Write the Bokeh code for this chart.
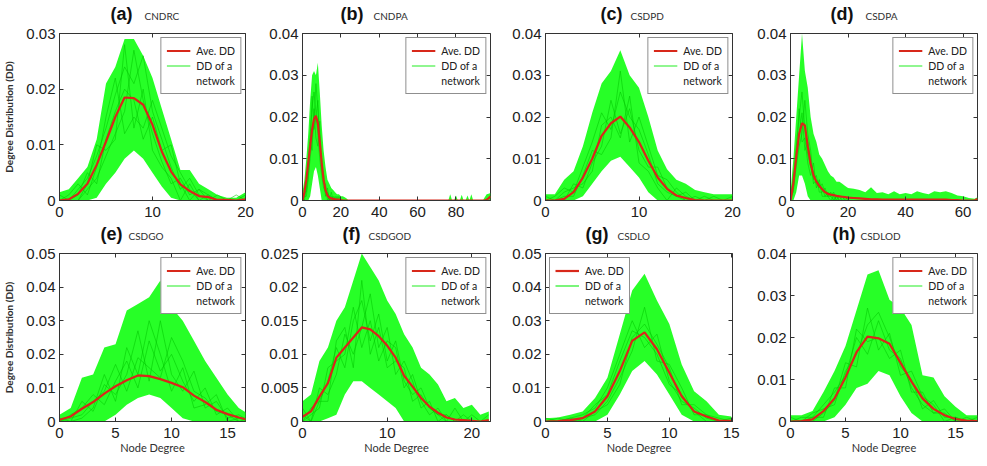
from bokeh.plotting import figure
from bokeh.layouts import row, column
from bokeh.models import (Range1d, FixedTicker, LinearAxis, Legend,
                          LegendItem, CustomJSTickFormatter)
from bokeh.core.properties import value
from bokeh.embed import file_html
from bokeh.resources import INLINE

# ---------------- data ----------------
a_deg = list(range(0, 21))
a_ave = [0.0, 0.0002, 0.0012, 0.003, 0.0064, 0.0106, 0.015, 0.0185, 0.0184, 0.0172, 0.0136,
         0.0088, 0.0052, 0.0029, 0.0017, 0.0008, 0.0006, 0.0001, 0.0001, 0.0, 0.0002]
a_hi = [0.0015, 0.002, 0.004, 0.006, 0.011, 0.021, 0.024, 0.029, 0.029, 0.026, 0.022,
        0.0165, 0.011, 0.0055, 0.0055, 0.003, 0.002, 0.001, 0.0005, 0.0005, 0.0015]
a_lo = [0, 0, 0, 0, 0.0005, 0.003, 0.005, 0.0075, 0.009, 0.0075, 0.005,
        0.0025, 0.0005, 0, 0, 0, 0, 0, 0, 0, 0]
a_nets = [
    [0, 0, 0.002, 0.004, 0.008, 0.013, 0.019, 0.024, 0.021, 0.026, 0.016, 0.011, 0.006, 0.002, 0.004, 0.001, 0, 0, 0, 0, 0],
    [0.001, 0, 0, 0.002, 0.004, 0.008, 0.012, 0.016, 0.027, 0.018, 0.012, 0.007, 0.003, 0.004, 0.001, 0.002, 0, 0.001, 0, 0, 0.001],
    [0, 0.001, 0.003, 0.001, 0.006, 0.015, 0.022, 0.012, 0.015, 0.013, 0.018, 0.013, 0.008, 0.005, 0.002, 0, 0.001, 0, 0, 0, 0],
    [0, 0, 0, 0.003, 0.01, 0.009, 0.011, 0.028, 0.013, 0.02, 0.009, 0.006, 0.004, 0, 0.003, 0, 0, 0, 0, 0, 0],
    [0, 0, 0.001, 0.005, 0.003, 0.011, 0.016, 0.02, 0.018, 0.011, 0.015, 0.009, 0.01, 0.003, 0, 0.002, 0.001, 0, 0, 0.001, 0],
]

b_deg = [0, 1, 2, 3, 4, 5, 6, 7, 8, 9, 10, 11, 12, 13, 14, 15, 16, 17, 18, 19, 20, 21, 22, 23, 24,
         76, 77, 78, 79, 80, 81, 82, 83, 84, 85, 86, 87, 88, 89, 90, 91, 92, 93, 94, 95, 96, 97, 98]
b_ave = [0.0, 0.002, 0.005, 0.009, 0.013, 0.017, 0.0195, 0.0203, 0.0185, 0.014, 0.009, 0.005, 0.0025,
         0.0012, 0.0007, 0.0005, 0.0004, 0.0003, 0.0002, 0.0002, 0.0001, 0.0, 0.0, 0.0, 0.0,
         0, 0, 0, 0, 0, 0, 0, 0, 0, 0, 0, 0, 0, 0, 0, 0, 0, 0, 0, 0, 0.0002, 0.0005, 0.001]
b_hi = [0.002, 0.005, 0.01, 0.016, 0.024, 0.03, 0.031, 0.03, 0.033, 0.026, 0.018, 0.012, 0.008,
        0.005, 0.004, 0.003, 0.0025, 0.002, 0.0015, 0.0015, 0.001, 0.001, 0.0008, 0.0005, 0.0,
        0, 0.0015, 0, 0, 0.0012, 0, 0, 0.0014, 0, 0, 0.0012, 0, 0.0015, 0, 0, 0, 0, 0, 0, 0.0008, 0.0015, 0.0016, 0.0018]
b_lo = [0, 0, 0, 0, 0.001, 0.004, 0.007, 0.008, 0.006, 0.003, 0, 0, 0, 0, 0, 0, 0, 0, 0, 0, 0, 0, 0, 0, 0,
        0, 0, 0, 0, 0, 0, 0, 0, 0, 0, 0, 0, 0, 0, 0, 0, 0, 0, 0, 0, 0, 0, 0]
b_net_deg = [0, 1, 2, 3, 4, 5, 6, 7, 8, 9, 10, 11, 12, 13, 14, 15, 16, 17, 18, 19, 20, 21, 22, 23, 24]
b_nets = [
    [0, 0.001, 0.004, 0.009, 0.016, 0.022, 0.026, 0.021, 0.016, 0.01, 0.006, 0.003, 0.002, 0.001, 0, 0.001, 0, 0, 0, 0, 0, 0, 0, 0, 0],
    [0, 0.002, 0.002, 0.006, 0.01, 0.015, 0.019, 0.028, 0.022, 0.015, 0.009, 0.005, 0.002, 0.002, 0.001, 0, 0, 0.001, 0, 0, 0, 0, 0, 0, 0],
    [0.001, 0, 0.003, 0.008, 0.013, 0.025, 0.017, 0.02, 0.024, 0.012, 0.01, 0.004, 0.004, 0, 0.001, 0, 0.001, 0, 0, 0.001, 0, 0, 0, 0, 0],
    [0, 0.001, 0.001, 0.005, 0.014, 0.012, 0.022, 0.015, 0.013, 0.019, 0.007, 0.006, 0.001, 0.003, 0, 0.002, 0, 0, 0.001, 0, 0, 0, 0, 0, 0],
]

c_deg = list(range(0, 21))
c_ave = [0.0, 0.0, 0.0004, 0.002, 0.0055, 0.01, 0.0155, 0.0185, 0.0201, 0.0175, 0.014,
         0.0095, 0.0055, 0.0028, 0.0012, 0.0006, 0.0001, 0.0, 0.0, 0.0, 0.0]
c_hi = [0.0015, 0.0015, 0.005, 0.007, 0.013, 0.021, 0.028, 0.031, 0.036, 0.030, 0.027,
        0.020, 0.012, 0.0075, 0.005, 0.004, 0.0025, 0.002, 0.0015, 0.0015, 0.0015]
c_lo = [0, 0, 0, 0, 0.001, 0.004, 0.007, 0.0095, 0.0105, 0.008, 0.0055, 0.002, 0, 0, 0, 0, 0, 0, 0, 0, 0]
c_nets = [
    [0, 0.001, 0.003, 0.002, 0.008, 0.014, 0.021, 0.017, 0.026, 0.02, 0.017, 0.011, 0.004, 0.002, 0.001, 0, 0, 0, 0, 0, 0],
    [0, 0, 0, 0.004, 0.003, 0.009, 0.013, 0.024, 0.016, 0.022, 0.012, 0.008, 0.008, 0.003, 0.001, 0.002, 0, 0, 0, 0, 0.001],
    [0.001, 0, 0.001, 0.001, 0.006, 0.012, 0.011, 0.015, 0.031, 0.014, 0.02, 0.013, 0.006, 0.005, 0.002, 0, 0.001, 0, 0.001, 0, 0],
    [0, 0, 0.002, 0.003, 0.004, 0.007, 0.018, 0.02, 0.015, 0.025, 0.009, 0.007, 0.003, 0, 0.003, 0.001, 0, 0.001, 0, 0, 0],
]

d_deg = [0, 1, 2, 3, 4, 5, 6, 7, 8, 9, 10, 11, 12, 13, 14, 15, 16, 17, 18, 19, 20,
         22, 24, 26, 28, 30, 32, 34, 36, 38, 40, 42, 44, 46, 48, 50, 52, 54, 56, 58, 60, 62, 64, 65]
d_ave = [0.0, 0.004, 0.0105, 0.016, 0.0185, 0.018, 0.013, 0.0088, 0.006, 0.0045, 0.0035, 0.0027,
         0.002, 0.0016, 0.0014, 0.0013, 0.0011, 0.001, 0.0009, 0.0008, 0.0007,
         0.0006, 0.0005, 0.0004, 0.0003, 0.0003, 0.0002, 0.0002, 0.0002, 0.0002, 0.0002, 0.0002,
         0.0002, 0.0002, 0.0002, 0.0002, 0.0002, 0.0002, 0.0001, 0.0001, 0.0, 0.0, 0.0, 0.0004]
d_hi = [0.002, 0.01, 0.02, 0.03, 0.04, 0.031, 0.027, 0.02, 0.016, 0.014, 0.011, 0.01, 0.0085,
        0.007, 0.006, 0.0055, 0.0045, 0.0045, 0.004, 0.0035, 0.003,
        0.0028, 0.0025, 0.002, 0.0032, 0.0018, 0.002, 0.0015, 0.0022, 0.0015, 0.0018, 0.0015,
        0.0022, 0.0018, 0.0015, 0.0022, 0.002, 0.0022, 0.0018, 0.0012, 0.001, 0.0006, 0.0004, 0.0008]
d_lo = [0, 0, 0.002, 0.006, 0.006, 0.004, 0.001, 0, 0, 0, 0, 0, 0, 0, 0, 0, 0, 0, 0, 0, 0,
        0, 0, 0, 0, 0, 0, 0, 0, 0, 0, 0, 0, 0, 0, 0, 0, 0, 0, 0, 0, 0, 0, 0]
d_net_deg = [0, 1, 2, 3, 4, 5, 6, 7, 8, 9, 10, 11, 12, 13, 14, 15, 16, 17, 18, 19, 20]
d_nets = [
    [0, 0.005, 0.013, 0.02, 0.026, 0.017, 0.011, 0.008, 0.007, 0.004, 0.003, 0.004, 0.002, 0.001, 0.002, 0, 0.001, 0, 0.001, 0, 0],
    [0, 0.003, 0.008, 0.013, 0.016, 0.024, 0.016, 0.012, 0.005, 0.006, 0.002, 0.002, 0.003, 0.001, 0, 0.001, 0, 0.001, 0, 0, 0.001],
    [0.001, 0.002, 0.011, 0.022, 0.014, 0.015, 0.009, 0.006, 0.009, 0.003, 0.005, 0.001, 0.001, 0.002, 0.001, 0, 0.001, 0, 0, 0.001, 0],
    [0, 0.006, 0.009, 0.016, 0.021, 0.012, 0.014, 0.01, 0.004, 0.005, 0.004, 0.003, 0.001, 0.001, 0.001, 0.002, 0, 0, 0, 0, 0],
]

e_deg = list(range(0, 18))
e_ave = [0.0005, 0.0015, 0.0038, 0.0058, 0.0083, 0.0105, 0.0123, 0.0137, 0.0135, 0.0126,
         0.0115, 0.0102, 0.0077, 0.0058, 0.0035, 0.0022, 0.0012, 0.0003]
e_hi = [0.002, 0.004, 0.013, 0.014, 0.022, 0.023, 0.033, 0.035, 0.037, 0.042,
        0.034, 0.030, 0.024, 0.018, 0.013, 0.008, 0.004, 0.002]
e_lo = [0, 0, 0, 0, 0, 0.002, 0.005, 0.007, 0.008, 0.007, 0.004, 0.001, 0, 0, 0, 0, 0, 0]
e_nets = [
    [0, 0.002, 0.004, 0.008, 0.005, 0.012, 0.018, 0.01, 0.024, 0.015, 0.02, 0.012, 0.006, 0.01, 0.002, 0.004, 0, 0],
    [0.001, 0, 0.006, 0.003, 0.011, 0.008, 0.014, 0.027, 0.012, 0.03, 0.014, 0.009, 0.015, 0.004, 0.006, 0.001, 0.002, 0],
    [0, 0.001, 0.002, 0.006, 0.009, 0.017, 0.009, 0.019, 0.016, 0.013, 0.025, 0.018, 0.009, 0.007, 0.003, 0.002, 0, 0.001],
    [0, 0, 0.001, 0.004, 0.014, 0.006, 0.022, 0.014, 0.03, 0.02, 0.009, 0.016, 0.004, 0.005, 0.008, 0, 0.001, 0],
]

f_deg = list(range(0, 23))
f_ave = [0.0007, 0.0015, 0.0037, 0.0057, 0.0095, 0.011, 0.0125, 0.014, 0.0137, 0.0127, 0.0113,
         0.0095, 0.0068, 0.0052, 0.0035, 0.0022, 0.0013, 0.0006, 0.0003, 0.0002, 0.0001, 0.0, 0.0002]
f_hi = [0.003, 0.004, 0.009, 0.011, 0.015, 0.017, 0.021, 0.025, 0.023, 0.021, 0.018,
        0.016, 0.013, 0.011, 0.008, 0.007, 0.0055, 0.003, 0.0035, 0.002, 0.0025, 0.001, 0.0015]
f_lo = [0, 0, 0, 0.0005, 0.001, 0.004, 0.006, 0.006, 0.005, 0.004, 0.003, 0.002,
        0, 0, 0, 0, 0, 0, 0, 0, 0, 0, 0]
f_nets = [
    [0, 0.002, 0.003, 0.006, 0.011, 0.008, 0.015, 0.018, 0.012, 0.016, 0.009, 0.012, 0.006, 0.004, 0.005, 0.002, 0.001, 0, 0.002, 0, 0, 0, 0],
    [0.001, 0, 0.005, 0.004, 0.007, 0.013, 0.01, 0.014, 0.019, 0.011, 0.014, 0.007, 0.009, 0.006, 0.002, 0.003, 0, 0.001, 0, 0.001, 0, 0, 0],
    [0, 0.001, 0.002, 0.008, 0.009, 0.01, 0.017, 0.011, 0.015, 0.009, 0.012, 0.011, 0.005, 0.007, 0.003, 0.001, 0.002, 0, 0, 0, 0.001, 0, 0],
    [0.002, 0, 0.003, 0.003, 0.012, 0.014, 0.008, 0.021, 0.01, 0.014, 0.008, 0.009, 0.008, 0.003, 0.004, 0.002, 0.001, 0.001, 0, 0, 0, 0, 0.001],
]

g_deg = list(range(0, 16))
g_ave = [0.0, 0.0001, 0.0004, 0.001, 0.003, 0.0075, 0.015, 0.024, 0.0265, 0.0215, 0.0145,
         0.0075, 0.003, 0.0015, 0.0003, 0.0002]
g_hi = [0.001, 0.0012, 0.002, 0.003, 0.007, 0.013, 0.026, 0.039, 0.044, 0.036, 0.029,
        0.017, 0.009, 0.006, 0.002, 0.0015]
g_lo = [0, 0, 0, 0, 0, 0.002, 0.008, 0.015, 0.018, 0.014, 0.008, 0.002, 0, 0, 0, 0]
g_nets = [
    [0, 0, 0.001, 0.002, 0.004, 0.01, 0.02, 0.03, 0.022, 0.026, 0.012, 0.006, 0.004, 0.001, 0, 0],
    [0, 0.001, 0, 0.001, 0.002, 0.006, 0.013, 0.021, 0.034, 0.018, 0.017, 0.01, 0.002, 0.002, 0.001, 0],
    [0, 0, 0, 0.001, 0.005, 0.008, 0.018, 0.027, 0.025, 0.02, 0.011, 0.008, 0.003, 0, 0, 0.001],
    [0.001, 0, 0.001, 0, 0.003, 0.005, 0.011, 0.025, 0.029, 0.023, 0.016, 0.005, 0.005, 0.002, 0, 0],
]

h_deg = list(range(0, 18))
h_ave = [0.0, 0.0001, 0.0005, 0.0025, 0.0055, 0.0105, 0.0165, 0.0202, 0.0198, 0.0185, 0.014,
         0.0095, 0.0055, 0.003, 0.0015, 0.0006, 0.0002, 0.0001]
h_hi = [0.0015, 0.0015, 0.0025, 0.007, 0.012, 0.018, 0.0265, 0.035, 0.036, 0.029, 0.027,
        0.023, 0.011, 0.0105, 0.006, 0.0035, 0.0015, 0.0015]
h_lo = [0, 0, 0, 0, 0.001, 0.004, 0.008, 0.009, 0.012, 0.011, 0.006, 0.002, 0, 0, 0, 0, 0, 0]
h_nets = [
    [0, 0, 0.001, 0.004, 0.007, 0.011, 0.02, 0.016, 0.024, 0.017, 0.015, 0.008, 0.004, 0.002, 0.002, 0, 0, 0],
    [0.001, 0, 0, 0.002, 0.005, 0.014, 0.013, 0.027, 0.017, 0.021, 0.011, 0.012, 0.006, 0.004, 0, 0.001, 0, 0.001],
    [0, 0.001, 0.001, 0.001, 0.008, 0.008, 0.022, 0.019, 0.02, 0.015, 0.017, 0.007, 0.007, 0.002, 0.003, 0, 0.001, 0],
    [0, 0, 0.002, 0.003, 0.004, 0.012, 0.016, 0.023, 0.026, 0.02, 0.013, 0.01, 0.003, 0.005, 0.001, 0.001, 0, 0],
]

# axis ticks and labels
x_ticks_a = [0, 10, 20]; x_labels_a = ["0", "10", "20"]
x_ticks_b = [0, 20, 40, 60, 80]; x_labels_b = ["0", "20", "40", "60", "80"]
x_ticks_d = [0, 20, 40, 60]; x_labels_d = ["0", "20", "40", "60"]
x_ticks_5 = [0, 5, 10, 15]; x_labels_5 = ["0", "5", "10", "15"]
y_ticks_03 = [0, 0.01, 0.02, 0.03]; y_labels_03 = ["0", "0.01", "0.02", "0.03"]
y_ticks_04 = [0, 0.01, 0.02, 0.03, 0.04]; y_labels_04 = ["0", "0.01", "0.02", "0.03", "0.04"]
y_ticks_05 = [0, 0.01, 0.02, 0.03, 0.04, 0.05]; y_labels_05 = ["0", "0.01", "0.02", "0.03", "0.04", "0.05"]
y_ticks_025 = [0, 0.005, 0.01, 0.015, 0.02, 0.025]; y_labels_025 = ["0", "0.005", "0.01", "0.015", "0.02", "0.025"]

tags = ["(a)", "(b)", "(c)", "(d)", "(e)", "(f)", "(g)", "(h)"]
names = ["CNDRC", "CNDPA", "CSDPD", "CSDPA", "CSDGO", "CSDGOD", "CSDLO", "CSDLOD"]
legend_labels = ["Ave. DD", "DD of a", "network"]
x_title = "Node Degree"
y_title = "Degree Distribution (DD)"

# ---------------- styling / layout ----------------
GREEN_BAND = "#10ff10"
GREEN_LINE = "#00c800"
GREEN_LEG = "#22ee22"
RED = "#d8281a"
AX = "#333333"
TICK_FONT = "Liberation Sans"
SMALL_FONT = "Lato"
PAGE_W = 987

# title placement (pixels from the page's left edge)
tag_left = [110, 340, 600, 830, 100, 342, 585, 832]
name_left = [144, 373, 630, 865, 128, 368, 617, 860]

panels = [
    dict(deg=a_deg, ave=a_ave, hi=a_hi, lo=a_lo, ndeg=a_deg, nets=a_nets, xr=(0, 20),
         xt=x_ticks_a, xl=x_labels_a, yr=(0, 0.03), yt=y_ticks_03, yl=y_labels_03,
         bl=57, br=12, fw=186, leg="top_right", ylab=True),
    dict(deg=b_deg, ave=b_ave, hi=b_hi, lo=b_lo, ndeg=b_net_deg, nets=b_nets, xr=(0, 98),
         xt=x_ticks_b, xl=x_labels_b, yr=(0, 0.04), yt=y_ticks_04, yl=y_labels_04,
         bl=45, br=17, fw=188, leg="top_right", ylab=False),
    dict(deg=c_deg, ave=c_ave, hi=c_hi, lo=c_lo, ndeg=c_deg, nets=c_nets, xr=(0, 20),
         xt=x_ticks_a, xl=x_labels_a, yr=(0, 0.04), yt=y_ticks_04, yl=y_labels_04,
         bl=38, br=22, fw=187, leg="top_right", ylab=False),
    dict(deg=d_deg, ave=d_ave, hi=d_hi, lo=d_lo, ndeg=d_net_deg, nets=d_nets, xr=(0, 65),
         xt=x_ticks_d, xl=x_labels_d, yr=(0, 0.04), yt=y_ticks_04, yl=y_labels_04,
         bl=36, br=12, fw=187, leg="top_right", ylab=False),
    dict(deg=e_deg, ave=e_ave, hi=e_hi, lo=e_lo, ndeg=e_deg, nets=e_nets, xr=(0, 16.6),
         xt=x_ticks_5, xl=x_labels_5, yr=(0, 0.05), yt=y_ticks_05, yl=y_labels_05,
         bl=57, br=12, fw=186, leg="top_right", ylab=True),
    dict(deg=f_deg, ave=f_ave, hi=f_hi, lo=f_lo, ndeg=f_deg, nets=f_nets, xr=(0, 22.2),
         xt=x_ticks_a, xl=x_labels_a, yr=(0, 0.025), yt=y_ticks_025, yl=y_labels_025,
         bl=45, br=17, fw=188, leg="top_right", ylab=False),
    dict(deg=g_deg, ave=g_ave, hi=g_hi, lo=g_lo, ndeg=g_deg, nets=g_nets, xr=(0, 15.1),
         xt=x_ticks_5, xl=x_labels_5, yr=(0, 0.05), yt=y_ticks_05, yl=y_labels_05,
         bl=38, br=22, fw=187, leg="top_left", ylab=False),
    dict(deg=h_deg, ave=h_ave, hi=h_hi, lo=h_lo, ndeg=h_deg, nets=h_nets, xr=(0, 17),
         xt=x_ticks_5, xl=x_labels_5, yr=(0, 0.04), yt=y_ticks_04, yl=y_labels_04,
         bl=36, br=12, fw=187, leg="top_right", ylab=False),
]

FMT_CODE = "const i = vals.indexOf(tick); return i < 0 ? '' : labs[i];"


def make_title_strip(ks, height, cy_tag, cy_name):
    """A strip across the whole page carrying '(x)' and the model names of one row."""
    t = figure(width=PAGE_W, height=height, min_border=0,
               min_border_left=0, min_border_right=0, min_border_top=0, min_border_bottom=0,
               x_range=Range1d(0, PAGE_W), y_range=Range1d(0, height),
               x_axis_location=None, y_axis_location=None,
               output_backend="svg", toolbar_location=None, tools="")
    t.outline_line_color = None
    t.xgrid.visible = False
    t.ygrid.visible = False
    t.background_fill_color = "white"
    t.border_fill_color = "white"
    t.text(x=[tag_left[k] for k in ks], y=[height - cy_tag] * len(ks), text=[tags[k] for k in ks],
           text_font=value(TICK_FONT), text_font_style="bold", text_font_size="18px",
           text_color="#111111", text_align="left", text_baseline="middle")
    t.text(x=[name_left[k] for k in ks], y=[height - cy_name] * len(ks), text=[names[k] for k in ks],
           text_font=value(SMALL_FONT), text_font_size="10px",
           text_color="#303030", text_align="left", text_baseline="middle")
    return t


def make_panel(k, cfg):
    top_row = k < 4
    fh = 167 if top_row else 168
    bt = 9
    bb = 23 if top_row else 45
    p = figure(frame_width=cfg["fw"], frame_height=fh,
               min_border_left=cfg["bl"], min_border_right=cfg["br"],
               min_border_top=bt, min_border_bottom=bb,
               x_range=Range1d(*cfg["xr"]), y_range=Range1d(*cfg["yr"]),
               output_backend="svg", toolbar_location=None, tools="")
    p.xgrid.visible = False
    p.ygrid.visible = False
    p.outline_line_color = AX
    p.outline_line_width = 1
    p.background_fill_color = "white"
    p.border_fill_color = "white"

    p.varea(x=cfg["deg"], y1=cfg["lo"], y2=cfg["hi"], fill_color=GREEN_BAND, fill_alpha=0.9)
    for n in cfg["nets"]:
        p.line(cfg["ndeg"], n, line_color=GREEN_LINE, line_width=1, line_alpha=0.55)
    ave_r = p.line(cfg["deg"], cfg["ave"], line_color=RED, line_width=2.2)
    leg_green = p.line([0], [0], line_color=GREEN_LEG, line_width=1.2)
    ghost = p.line([0], [0], line_alpha=0)

    xax = p.below[0]
    yax = p.left[0]
    for ax, ticks, labs in ((xax, cfg["xt"], cfg["xl"]), (yax, cfg["yt"], cfg["yl"])):
        ax.ticker = FixedTicker(ticks=ticks)
        ax.formatter = CustomJSTickFormatter(args=dict(vals=ticks, labs=labs), code=FMT_CODE)
        ax.major_tick_in = 4
        ax.major_tick_out = 0
        ax.minor_tick_line_color = None
        ax.axis_line_color = AX
        ax.major_tick_line_color = AX
        ax.major_label_text_font = TICK_FONT
        ax.major_label_text_font_size = "15px"
        ax.major_label_text_color = "#202020"
    xax.major_label_standoff = 6
    yax.major_label_standoff = 4

    for loc, ticks in (("above", cfg["xt"]), ("right", cfg["yt"])):
        ax = LinearAxis(ticker=FixedTicker(ticks=ticks), major_label_text_font_size="0px",
                        major_label_standoff=0, axis_line_color=None, major_tick_in=4,
                        major_tick_out=0, major_tick_line_color=AX, minor_tick_line_color=None)
        ax.formatter = CustomJSTickFormatter(code="return '';")
        p.add_layout(ax, loc)

    if not top_row:
        xax.axis_label = x_title
        xax.axis_label_text_font = SMALL_FONT
        xax.axis_label_text_font_size = "11px"
        xax.axis_label_text_font_style = "normal"
        xax.axis_label_text_color = "#303030"
        xax.axis_label_standoff = 0
    if cfg["ylab"]:
        yax.axis_label = y_title
        yax.axis_label_text_font = SMALL_FONT
        yax.axis_label_text_font_size = "10px"
        yax.axis_label_text_font_style = "bold"
        yax.axis_label_text_color = "#303030"
        yax.axis_label_standoff = 8

    legend = Legend(items=[LegendItem(label=legend_labels[0], renderers=[ave_r]),
                           LegendItem(label=legend_labels[1], renderers=[leg_green]),
                           LegendItem(label=legend_labels[2], renderers=[ghost])],
                    location=cfg["leg"], margin=4, padding=5, spacing=0,
                    glyph_width=24, glyph_height=15, label_height=15, label_standoff=6,
                    label_text_font=SMALL_FONT, label_text_font_size="10.5px",
                    label_text_color="#202020", border_line_color="#202020",
                    border_line_width=1, background_fill_color="white", background_fill_alpha=1)
    p.add_layout(legend)
    return p


figs = [make_panel(k, cfg) for k, cfg in enumerate(panels)]
top_titles = make_title_strip([0, 1, 2, 3], 24, 13.5, 15.5)
bottom_titles = make_title_strip([4, 5, 6, 7], 21, 10.5, 12.5)

layout = column(top_titles, row(*figs[:4], spacing=0),
                bottom_titles, row(*figs[4:], spacing=0), spacing=0)

open("out.html", "w").write(file_html(layout, INLINE))
